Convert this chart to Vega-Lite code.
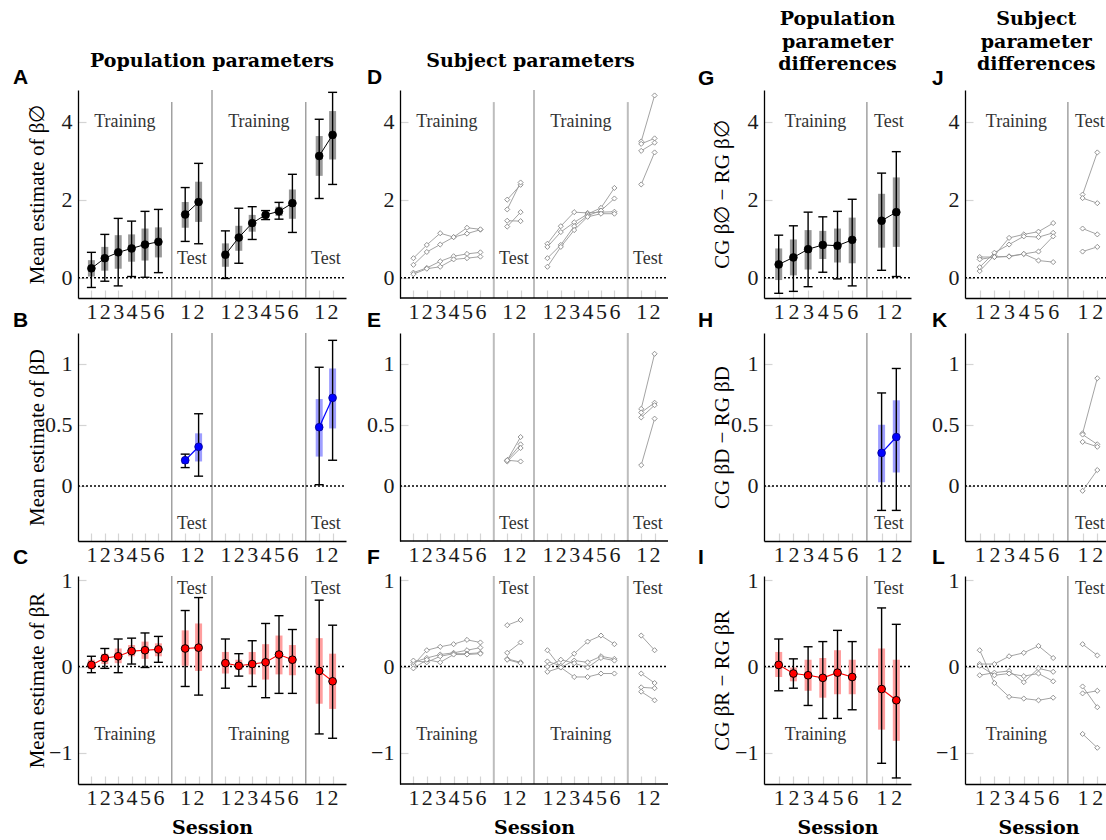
{
"$schema": "https://vega.github.io/schema/vega-lite/v6.json",
"background": "white",
"autosize": {"type": "none"},
"padding": {"left": 78, "top": 35, "right": 1028, "bottom": 805},
"columns": 4,
"spacing": {"row": 35, "column": 54},
"bounds": "flush",
"align": "each",
"datasets": {
"pop": [
{"p":"A","x":1,"m":0.24,"l50":0.03,"h50":0.45,"l95":-0.25,"h95":0.65,"b":1},
{"p":"A","x":2,"m":0.50,"l50":0.18,"h50":0.79,"l95":-0.09,"h95":1.11,"b":1},
{"p":"A","x":3,"m":0.65,"l50":0.23,"h50":1.09,"l95":-0.21,"h95":1.52,"b":1},
{"p":"A","x":4,"m":0.75,"l50":0.41,"h50":1.11,"l95":0.03,"h95":1.45,"b":1},
{"p":"A","x":5,"m":0.85,"l50":0.44,"h50":1.26,"l95":0.01,"h95":1.70,"b":1},
{"p":"A","x":6,"m":0.92,"l50":0.52,"h50":1.29,"l95":0.13,"h95":1.75,"b":1},
{"p":"A","x":8,"m":1.62,"l50":1.28,"h50":1.94,"l95":0.93,"h95":2.31,"b":2},
{"p":"A","x":9,"m":1.94,"l50":1.43,"h50":2.46,"l95":0.87,"h95":2.93,"b":2},
{"p":"A","x":11,"m":0.59,"l50":0.28,"h50":0.88,"l95":-0.02,"h95":1.20,"b":3},
{"p":"A","x":12,"m":1.03,"l50":0.69,"h50":1.33,"l95":0.37,"h95":1.78,"b":3},
{"p":"A","x":13,"m":1.40,"l50":1.18,"h50":1.61,"l95":0.98,"h95":1.82,"b":3},
{"p":"A","x":14,"m":1.61,"l50":1.54,"h50":1.66,"l95":1.49,"h95":1.72,"b":3},
{"p":"A","x":15,"m":1.70,"l50":1.58,"h50":1.82,"l95":1.50,"h95":1.93,"b":3},
{"p":"A","x":16,"m":1.91,"l50":1.51,"h50":2.26,"l95":1.16,"h95":2.65,"b":3},
{"p":"A","x":18,"m":3.12,"l50":2.61,"h50":3.63,"l95":2.03,"h95":4.06,"b":4},
{"p":"A","x":19,"m":3.66,"l50":3.03,"h50":4.27,"l95":2.39,"h95":4.75,"b":4},
{"p":"B","x":8,"m":0.21,"l50":0.18,"h50":0.23,"l95":0.15,"h95":0.26,"b":2},
{"p":"B","x":9,"m":0.32,"l50":0.20,"h50":0.43,"l95":0.08,"h95":0.59,"b":2},
{"p":"B","x":18,"m":0.48,"l50":0.24,"h50":0.71,"l95":0.01,"h95":0.97,"b":4},
{"p":"B","x":19,"m":0.72,"l50":0.47,"h50":0.96,"l95":0.21,"h95":1.19,"b":4},
{"p":"C","x":1,"m":0.02,"l50":-0.03,"h50":0.08,"l95":-0.07,"h95":0.12,"b":1},
{"p":"C","x":2,"m":0.10,"l50":0.03,"h50":0.15,"l95":-0.02,"h95":0.21,"b":1},
{"p":"C","x":3,"m":0.12,"l50":0.04,"h50":0.21,"l95":-0.07,"h95":0.32,"b":1},
{"p":"C","x":4,"m":0.18,"l50":0.12,"h50":0.25,"l95":0.03,"h95":0.33,"b":1},
{"p":"C","x":5,"m":0.19,"l50":0.09,"h50":0.29,"l95":-0.01,"h95":0.39,"b":1},
{"p":"C","x":6,"m":0.20,"l50":0.12,"h50":0.27,"l95":0.05,"h95":0.35,"b":1},
{"p":"C","x":8,"m":0.21,"l50":0.01,"h50":0.42,"l95":-0.23,"h95":0.65,"b":2},
{"p":"C","x":9,"m":0.22,"l50":-0.05,"h50":0.50,"l95":-0.33,"h95":0.80,"b":2},
{"p":"C","x":11,"m":0.04,"l50":-0.08,"h50":0.17,"l95":-0.25,"h95":0.32,"b":3},
{"p":"C","x":12,"m":0.01,"l50":-0.04,"h50":0.08,"l95":-0.11,"h95":0.15,"b":3},
{"p":"C","x":13,"m":0.03,"l50":-0.09,"h50":0.17,"l95":-0.23,"h95":0.30,"b":3},
{"p":"C","x":14,"m":0.05,"l50":-0.15,"h50":0.26,"l95":-0.36,"h95":0.50,"b":3},
{"p":"C","x":15,"m":0.14,"l50":-0.09,"h50":0.36,"l95":-0.31,"h95":0.59,"b":3},
{"p":"C","x":16,"m":0.08,"l50":-0.10,"h50":0.25,"l95":-0.31,"h95":0.43,"b":3},
{"p":"C","x":18,"m":-0.05,"l50":-0.43,"h50":0.33,"l95":-0.78,"h95":0.77,"b":4},
{"p":"C","x":19,"m":-0.17,"l50":-0.49,"h50":0.15,"l95":-0.83,"h95":0.48,"b":4},
{"p":"G","x":1,"m":0.34,"l50":-0.06,"h50":0.75,"l95":-0.40,"h95":1.09,"b":1},
{"p":"G","x":2,"m":0.52,"l50":0.06,"h50":0.98,"l95":-0.35,"h95":1.33,"b":1},
{"p":"G","x":3,"m":0.73,"l50":0.21,"h50":1.22,"l95":-0.23,"h95":1.68,"b":1},
{"p":"G","x":4,"m":0.84,"l50":0.48,"h50":1.20,"l95":0.14,"h95":1.56,"b":1},
{"p":"G","x":5,"m":0.82,"l50":0.39,"h50":1.26,"l95":-0.03,"h95":1.70,"b":1},
{"p":"G","x":6,"m":0.97,"l50":0.37,"h50":1.54,"l95":-0.21,"h95":2.01,"b":1},
{"p":"G","x":8,"m":1.46,"l50":0.77,"h50":2.15,"l95":0.19,"h95":2.68,"b":2},
{"p":"G","x":9,"m":1.68,"l50":0.79,"h50":2.57,"l95":0.03,"h95":3.23,"b":2},
{"p":"H","x":8,"m":0.27,"l50":0.03,"h50":0.50,"l95":-0.20,"h95":0.76,"b":2},
{"p":"H","x":9,"m":0.40,"l50":0.11,"h50":0.70,"l95":-0.20,"h95":0.96,"b":2},
{"p":"I","x":1,"m":0.02,"l50":-0.12,"h50":0.17,"l95":-0.28,"h95":0.32,"b":1},
{"p":"I","x":2,"m":-0.08,"l50":-0.17,"h50":-0.01,"l95":-0.25,"h95":0.09,"b":1},
{"p":"I","x":3,"m":-0.10,"l50":-0.28,"h50":0.08,"l95":-0.45,"h95":0.23,"b":1},
{"p":"I","x":4,"m":-0.13,"l50":-0.36,"h50":0.10,"l95":-0.60,"h95":0.29,"b":1},
{"p":"I","x":5,"m":-0.07,"l50":-0.32,"h50":0.19,"l95":-0.60,"h95":0.42,"b":1},
{"p":"I","x":6,"m":-0.12,"l50":-0.32,"h50":0.08,"l95":-0.50,"h95":0.29,"b":1},
{"p":"I","x":8,"m":-0.26,"l50":-0.73,"h50":0.21,"l95":-1.12,"h95":0.68,"b":2},
{"p":"I","x":9,"m":-0.39,"l50":-0.86,"h50":0.08,"l95":-1.29,"h95":0.49,"b":2}
],
"subj": [
{"p":"D","x":1,"b":1,"s1":0.50,"s2":0.33,"s3":0.13,"s4":0.09},
{"p":"D","x":2,"b":1,"s1":0.84,"s2":0.66,"s3":0.25,"s4":0.23},
{"p":"D","x":3,"b":1,"s1":1.14,"s2":0.85,"s3":0.42,"s4":0.28},
{"p":"D","x":4,"b":1,"s1":1.04,"s2":1.04,"s3":0.55,"s4":0.47},
{"p":"D","x":5,"b":1,"s1":1.13,"s2":1.28,"s3":0.61,"s4":0.50},
{"p":"D","x":6,"b":1,"s1":1.23,"s2":1.24,"s3":0.65,"s4":0.54},
{"p":"D","x":8,"b":2,"s1":2.00,"s2":1.75,"s3":1.46,"s4":1.31},
{"p":"D","x":9,"b":2,"s1":2.38,"s2":2.44,"s3":1.45,"s4":1.68},
{"p":"D","x":11,"b":3,"s1":0.87,"s2":0.79,"s3":0.50,"s4":0.28},
{"p":"D","x":12,"b":3,"s1":1.32,"s2":1.17,"s3":0.84,"s4":0.79},
{"p":"D","x":13,"b":3,"s1":1.68,"s2":1.42,"s3":1.32,"s4":1.22},
{"p":"D","x":14,"b":3,"s1":1.66,"s2":1.63,"s3":1.59,"s4":1.56},
{"p":"D","x":15,"b":3,"s1":1.68,"s2":1.79,"s3":1.72,"s4":1.64},
{"p":"D","x":16,"b":3,"s1":1.69,"s2":2.30,"s3":2.03,"s4":1.64},
{"p":"D","x":18,"b":4,"s1":3.49,"s2":3.43,"s3":3.25,"s4":2.39},
{"p":"D","x":19,"b":4,"s1":4.67,"s2":3.57,"s3":3.46,"s4":3.21},
{"p":"E","x":8,"b":2,"s1":0.21,"s2":0.21,"s3":0.20,"s4":0.21},
{"p":"E","x":9,"b":2,"s1":0.40,"s2":0.34,"s3":0.31,"s4":0.20},
{"p":"E","x":18,"b":4,"s1":0.63,"s2":0.60,"s3":0.56,"s4":0.17},
{"p":"E","x":19,"b":4,"s1":1.08,"s2":0.68,"s3":0.66,"s4":0.55},
{"p":"F","x":1,"b":1,"s1":0.02,"s2":0.05,"s3":0.07,"s4":-0.02},
{"p":"F","x":2,"b":1,"s1":0.19,"s2":0.10,"s3":0.05,"s4":0.08},
{"p":"F","x":3,"b":1,"s1":0.23,"s2":0.14,"s3":0.12,"s4":0.05},
{"p":"F","x":4,"b":1,"s1":0.26,"s2":0.16,"s3":0.15,"s4":0.14},
{"p":"F","x":5,"b":1,"s1":0.31,"s2":0.19,"s3":0.15,"s4":0.14},
{"p":"F","x":6,"b":1,"s1":0.28,"s2":0.22,"s3":0.16,"s4":0.15},
{"p":"F","x":8,"b":2,"s1":0.48,"s2":0.16,"s3":0.09,"s4":0.08},
{"p":"F","x":9,"b":2,"s1":0.54,"s2":0.28,"s3":0.05,"s4":0.04},
{"p":"F","x":11,"b":3,"s1":0.06,"s2":0.19,"s3":0.00,"s4":-0.06},
{"p":"F","x":12,"b":3,"s1":0.01,"s2":-0.01,"s3":0.08,"s4":-0.01},
{"p":"F","x":13,"b":3,"s1":0.15,"s2":0.07,"s3":0.04,"s4":-0.12},
{"p":"F","x":14,"b":3,"s1":0.29,"s2":0.05,"s3":-0.01,"s4":-0.12},
{"p":"F","x":15,"b":3,"s1":0.36,"s2":0.12,"s3":0.10,"s4":-0.08},
{"p":"F","x":16,"b":3,"s1":0.26,"s2":0.09,"s3":0.07,"s4":-0.08},
{"p":"F","x":18,"b":4,"s1":0.36,"s2":-0.08,"s3":-0.24,"s4":-0.29},
{"p":"F","x":19,"b":4,"s1":0.19,"s2":-0.19,"s3":-0.25,"s4":-0.39},
{"p":"J","x":1,"b":1,"s1":0.17,"s2":0.27,"s3":0.53,"s4":0.47},
{"p":"J","x":2,"b":1,"s1":0.57,"s2":0.64,"s3":0.53,"s4":0.53},
{"p":"J","x":3,"b":1,"s1":1.02,"s2":0.85,"s3":0.55,"s4":0.54},
{"p":"J","x":4,"b":1,"s1":1.11,"s2":1.06,"s3":0.61,"s4":0.61},
{"p":"J","x":5,"b":1,"s1":1.18,"s2":1.04,"s3":0.67,"s4":0.44},
{"p":"J","x":6,"b":1,"s1":1.40,"s2":1.15,"s3":1.06,"s4":0.40},
{"p":"J","x":8,"b":2,"s1":2.13,"s2":2.04,"s3":1.26,"s4":0.67},
{"p":"J","x":9,"b":2,"s1":3.21,"s2":1.91,"s3":1.11,"s4":0.79},
{"p":"K","x":8,"b":2,"s1":0.43,"s2":0.42,"s3":0.36,"s4":-0.04},
{"p":"K","x":9,"b":2,"s1":0.88,"s2":0.34,"s3":0.32,"s4":0.13},
{"p":"L","x":1,"b":1,"s1":0.19,"s2":0.03,"s3":-0.10,"s4":0.01},
{"p":"L","x":2,"b":1,"s1":-0.19,"s2":0.03,"s3":-0.07,"s4":-0.10},
{"p":"L","x":3,"b":1,"s1":-0.35,"s2":0.12,"s3":-0.05,"s4":-0.08},
{"p":"L","x":4,"b":1,"s1":-0.37,"s2":0.16,"s3":-0.18,"s4":-0.11},
{"p":"L","x":5,"b":1,"s1":-0.39,"s2":0.24,"s3":-0.02,"s4":-0.08},
{"p":"L","x":6,"b":1,"s1":-0.36,"s2":0.10,"s3":-0.06,"s4":-0.17},
{"p":"L","x":8,"b":2,"s1":0.26,"s2":-0.23,"s3":-0.31,"s4":-0.78},
{"p":"L","x":9,"b":2,"s1":0.13,"s2":-0.47,"s3":-0.28,"s4":-0.94}
],
"div": [
{"p":"A","x":7,"lo":-0.52,"top":4.5},{"p":"A","x":10,"lo":-0.52,"top":4.81},{"p":"A","x":17,"lo":-0.52,"top":4.5},
{"p":"D","x":7,"lo":-0.52,"top":4.5},{"p":"D","x":10,"lo":-0.52,"top":4.81},{"p":"D","x":17,"lo":-0.52,"top":4.5},
{"p":"G","x":7,"lo":-0.52,"top":4.5},{"p":"J","x":7,"lo":-0.52,"top":4.5},
{"p":"B","x":7,"lo":-0.45,"top":1.25},{"p":"B","x":10,"lo":-0.45,"top":1.25},{"p":"B","x":17,"lo":-0.45,"top":1.25},
{"p":"E","x":7,"lo":-0.45,"top":1.25},{"p":"E","x":10,"lo":-0.45,"top":1.25},{"p":"E","x":17,"lo":-0.45,"top":1.25},
{"p":"H","x":7,"lo":-0.45,"top":1.25},{"p":"H","x":10,"lo":-0.45,"top":1.25},{"p":"K","x":7,"lo":-0.45,"top":1.25},
{"p":"C","x":7,"lo":-1.36,"top":1.05},{"p":"C","x":10,"lo":-1.36,"top":1.05},{"p":"C","x":17,"lo":-1.36,"top":1.05},
{"p":"F","x":7,"lo":-1.36,"top":1.05},{"p":"F","x":10,"lo":-1.36,"top":1.05},{"p":"F","x":17,"lo":-1.36,"top":1.05},
{"p":"I","x":7,"lo":-1.36,"top":1.05},{"p":"L","x":7,"lo":-1.36,"top":1.05}
],
"zl": [
{"p":"A","x":0,"x1":20,"ymin":-0.52},{"p":"D","x":0,"x1":20,"ymin":-0.52},{"p":"G","x":0,"x1":10,"ymin":-0.52},{"p":"J","x":0,"x1":9.592,"ymin":-0.52},
{"p":"B","x":0,"x1":20,"ymin":-0.45},{"p":"E","x":0,"x1":20,"ymin":-0.45},{"p":"H","x":0,"x1":10,"ymin":-0.45},{"p":"K","x":0,"x1":9.592,"ymin":-0.45},
{"p":"C","x":0,"x1":20,"ymin":-1.36},{"p":"F","x":0,"x1":20,"ymin":-1.36},{"p":"I","x":0,"x1":10,"ymin":-1.36},{"p":"L","x":0,"x1":9.592,"ymin":-1.36}
],
"lbl": [
{"p":"A","x":3.5,"y":4.0,"t":"Training"},{"p":"A","x":8.5,"y":0.47,"t":"Test"},{"p":"A","x":13.5,"y":4.0,"t":"Training"},{"p":"A","x":18.5,"y":0.47,"t":"Test"},
{"p":"D","x":3.5,"y":4.0,"t":"Training"},{"p":"D","x":8.5,"y":0.47,"t":"Test"},{"p":"D","x":13.5,"y":4.0,"t":"Training"},{"p":"D","x":18.5,"y":0.47,"t":"Test"},
{"p":"G","x":3.5,"y":4.0,"t":"Training"},{"p":"G","x":8.5,"y":4.0,"t":"Test"},
{"p":"J","x":3.5,"y":4.0,"t":"Training"},{"p":"J","x":8.5,"y":4.0,"t":"Test"},
{"p":"B","x":8.5,"y":-0.31,"t":"Test"},{"p":"B","x":18.5,"y":-0.31,"t":"Test"},
{"p":"E","x":8.5,"y":-0.31,"t":"Test"},{"p":"E","x":18.5,"y":-0.31,"t":"Test"},
{"p":"H","x":8.5,"y":-0.31,"t":"Test"},{"p":"K","x":8.5,"y":-0.31,"t":"Test"},
{"p":"C","x":8.5,"y":0.9,"t":"Test"},{"p":"C","x":18.5,"y":0.9,"t":"Test"},{"p":"C","x":3.5,"y":-0.79,"t":"Training"},{"p":"C","x":13.5,"y":-0.79,"t":"Training"},
{"p":"F","x":8.5,"y":0.9,"t":"Test"},{"p":"F","x":18.5,"y":0.9,"t":"Test"},{"p":"F","x":3.5,"y":-0.79,"t":"Training"},{"p":"F","x":13.5,"y":-0.79,"t":"Training"},
{"p":"I","x":8.5,"y":0.9,"t":"Test"},{"p":"I","x":3.5,"y":-0.79,"t":"Training"},
{"p":"L","x":8.5,"y":0.9,"t":"Test"},{"p":"L","x":3.5,"y":-0.79,"t":"Training"}
],
"hdr": [
{"p":"A","hx":10,"hy":-0.58,"t":"Population parameters"},
{"p":"D","hx":9.74,"hy":-0.58,"t":"Subject parameters"},
{"p":"G","hx":5,"hy":1.5,"t":"Population\nparameter\ndifferences"},
{"p":"J","hx":4.85,"hy":1.5,"t":"Subject\nparameter\ndifferences"}
]
},
"concat": [
{"width": 268, "height": 20, "data": {"name": "hdr"}, "transform": [{"filter": "datum.p === 'A'"}],
 "mark": {"type": "text", "font": "DejaVu Serif", "fontWeight": "bold", "fontSize": 19, "baseline": "alphabetic", "lineBreak": "\n", "lineHeight": 22.5, "color": "#000"},
 "encoding": {"x": {"field": "hx", "type": "quantitative", "scale": {"domain": [0, 20], "nice": false, "zero": false}, "axis": null}, "y": {"field": "hy", "type": "quantitative", "scale": {"domain": [0, 1], "nice": false, "zero": false}, "axis": null}, "text": {"field": "t"}}},
{"width": 310, "height": 20, "data": {"name": "hdr"}, "transform": [{"filter": "datum.p === 'D'"}],
 "mark": {"type": "text", "font": "DejaVu Serif", "fontWeight": "bold", "fontSize": 19, "baseline": "alphabetic", "lineBreak": "\n", "lineHeight": 22.5, "color": "#000"},
 "encoding": {"x": {"field": "hx", "type": "quantitative", "scale": {"domain": [0, 23.134], "nice": false, "zero": false}, "axis": null}, "y": {"field": "hy", "type": "quantitative", "scale": {"domain": [0, 1], "nice": false, "zero": false}, "axis": null}, "text": {"field": "t"}}},
{"width": 147, "height": 20, "data": {"name": "hdr"}, "transform": [{"filter": "datum.p === 'G'"}],
 "mark": {"type": "text", "font": "DejaVu Serif", "fontWeight": "bold", "fontSize": 19, "baseline": "alphabetic", "lineBreak": "\n", "lineHeight": 22.5, "color": "#000"},
 "encoding": {"x": {"field": "hx", "type": "quantitative", "scale": {"domain": [0, 10], "nice": false, "zero": false}, "axis": null}, "y": {"field": "hy", "type": "quantitative", "scale": {"domain": [0, 1], "nice": false, "zero": false}, "axis": null}, "text": {"field": "t"}}},
{"width": 141, "height": 20, "data": {"name": "hdr"}, "transform": [{"filter": "datum.p === 'J'"}],
 "mark": {"type": "text", "font": "DejaVu Serif", "fontWeight": "bold", "fontSize": 19, "baseline": "alphabetic", "lineBreak": "\n", "lineHeight": 22.5, "color": "#000"},
 "encoding": {"x": {"field": "hx", "type": "quantitative", "scale": {"domain": [0, 9.592], "nice": false, "zero": false}, "axis": null}, "y": {"field": "hy", "type": "quantitative", "scale": {"domain": [0, 1], "nice": false, "zero": false}, "axis": null}, "text": {"field": "t"}}},
{
"width": 268, "height": 208, "title": {"text": "A", "dx": -65},
"encoding": {"x": {"field": "x", "type": "quantitative", "scale": {"domain": [0, 20], "nice": false, "zero": false}, "axis": {"values": [1,2,3,4,5,6,8,9,11,12,13,14,15,16,18,19], "labelExpr": "datum.value <= 6 ? datum.value : datum.value <= 9 ? datum.value - 7 : datum.value <= 16 ? datum.value - 10 : datum.value - 17", "title": null, "labelOverlap": false, "labelSeparation": -40, "labelFlush": false}}},
"layer": [
{"data": {"name": "div"}, "transform": [{"filter": "datum.p === 'A'"}], "mark": {"type": "rule", "color": "#8a8a8a", "strokeWidth": 1.2},
 "encoding": {
  "y": {"field": "lo", "type": "quantitative", "scale": {"domain": [-0.52, 4.81], "nice": false, "zero": false}, "axis": {"values": [0, 2, 4], "format": "~g", "labelOverlap": false, "title": "Mean estimate of β∅", "titleX": -35, "titleBaseline": "alphabetic"}},
  "y2": {"field": "top"}}},
{"data": {"name": "zl"}, "transform": [{"filter": "datum.p === 'A'"}], "mark": {"type": "rule", "color": "#000", "strokeWidth": 1.5, "strokeDash": [2, 2]},
 "encoding": {"x2": {"field": "x1"}, "y": {"datum": 0, "type": "quantitative"}}},
{"data": {"name": "lbl"}, "transform": [{"filter": "datum.p === 'A'"}], "mark": {"type": "text", "font": "Liberation Serif", "fontSize": 18, "color": "#333"},
 "encoding": {"y": {"field": "y", "type": "quantitative"}, "text": {"field": "t"}}},
{"data": {"name": "pop"}, "transform": [{"filter": "datum.p === 'A'"}],
 "layer": [
  {"mark": {"type": "rule", "strokeWidth": 7, "color": "#999999"}, "encoding": {"y": {"field": "l50", "type": "quantitative"}, "y2": {"field": "h50"}}},
  {"mark": {"type": "rule", "strokeWidth": 1.4, "color": "#000"}, "encoding": {"y": {"field": "l95", "type": "quantitative"}, "y2": {"field": "h95"}}},
  {"mark": {"type": "rule", "strokeWidth": 1.4, "color": "#000", "xOffset": -4.5, "x2Offset": 4.5}, "encoding": {"x2": {"field": "x"}, "y": {"field": "l95", "type": "quantitative"}}},
  {"mark": {"type": "rule", "strokeWidth": 1.4, "color": "#000", "xOffset": -4.5, "x2Offset": 4.5}, "encoding": {"x2": {"field": "x"}, "y": {"field": "h95", "type": "quantitative"}}},
  {"mark": {"type": "line", "color": "#000", "strokeWidth": 1}, "encoding": {"y": {"field": "m", "type": "quantitative"}, "detail": {"field": "b", "type": "nominal"}}},
  {"mark": {"type": "point", "filled": true, "fill": "#000", "stroke": "#000", "strokeWidth": 0.8, "size": 60, "opacity": 1}, "encoding": {"y": {"field": "m", "type": "quantitative"}}}
 ]}
]},
{
"width": 310, "height": 208, "title": {"text": "D", "dx": -33},
"encoding": {"x": {"field": "x", "type": "quantitative", "scale": {"domain": [0, 23.134], "nice": false, "zero": false}, "axis": {"values": [1,2,3,4,5,6,8,9,11,12,13,14,15,16,18,19], "labelExpr": "datum.value <= 6 ? datum.value : datum.value <= 9 ? datum.value - 7 : datum.value <= 16 ? datum.value - 10 : datum.value - 17", "title": null, "domain": false, "labelOverlap": false, "labelSeparation": -40, "labelFlush": false}}},
"layer": [
{"data": {"name": "div"}, "transform": [{"filter": "datum.p === 'D'"}], "mark": {"type": "rule", "color": "#bdbdbd", "strokeWidth": 2},
 "encoding": {
  "y": {"field": "lo", "type": "quantitative", "scale": {"domain": [-0.52, 4.81], "nice": false, "zero": false}, "axis": {"values": [0, 2, 4], "format": "~g", "labelOverlap": false, "title": null}},
  "y2": {"field": "top"}}},
{"data": {"name": "zl"}, "transform": [{"filter": "datum.p === 'D'"}], "mark": {"type": "rule", "color": "#000", "strokeWidth": 1.5, "strokeDash": [2, 2]},
 "encoding": {"x2": {"field": "x1"}, "y": {"datum": 0, "type": "quantitative"}}},
{"data": {"name": "zl"}, "transform": [{"filter": "datum.p === 'D'"}], "mark": {"type": "rule", "color": "#000", "strokeWidth": 1.3},
 "encoding": {"x2": {"field": "x1"}, "y": {"field": "ymin", "type": "quantitative"}}},
{"data": {"name": "lbl"}, "transform": [{"filter": "datum.p === 'D'"}], "mark": {"type": "text", "font": "Liberation Serif", "fontSize": 18, "color": "#333"},
 "encoding": {"y": {"field": "y", "type": "quantitative"}, "text": {"field": "t"}}},
{"data": {"name": "subj"}, "transform": [{"filter": "datum.p === 'D'"}, {"fold": ["s1", "s2", "s3", "s4"], "as": ["s", "v"]}],
 "encoding": {"y": {"field": "v", "type": "quantitative"}},
 "layer": [
  {"mark": {"type": "line", "color": "#999", "strokeWidth": 0.9}, "encoding": {"detail": [{"field": "s", "type": "nominal"}, {"field": "b", "type": "nominal"}]}},
  {"mark": {"type": "point", "shape": "diamond", "filled": true, "fill": "#fff", "stroke": "#888", "strokeWidth": 0.9, "size": 26, "opacity": 1}, "encoding": {}}
 ]}
]},
{
"width": 147, "height": 208, "title": {"text": "G", "dx": -66},
"encoding": {"x": {"field": "x", "type": "quantitative", "scale": {"domain": [0, 10], "nice": false, "zero": false}, "axis": {"values": [1,2,3,4,5,6,8,9], "labelExpr": "datum.value <= 6 ? datum.value : datum.value - 7", "title": null, "labelOverlap": false, "labelSeparation": -40, "labelFlush": false}}},
"layer": [
{"data": {"name": "div"}, "transform": [{"filter": "datum.p === 'G'"}], "mark": {"type": "rule", "color": "#8a8a8a", "strokeWidth": 1.2},
 "encoding": {
  "y": {"field": "lo", "type": "quantitative", "scale": {"domain": [-0.52, 4.81], "nice": false, "zero": false}, "axis": {"values": [0, 2, 4], "format": "~g", "labelOverlap": false, "title": "CG β∅ − RG β∅", "titleX": -36, "titleBaseline": "alphabetic"}},
  "y2": {"field": "top"}}},
{"data": {"name": "zl"}, "transform": [{"filter": "datum.p === 'G'"}], "mark": {"type": "rule", "color": "#000", "strokeWidth": 1.5, "strokeDash": [2, 2]},
 "encoding": {"x2": {"field": "x1"}, "y": {"datum": 0, "type": "quantitative"}}},
{"data": {"name": "lbl"}, "transform": [{"filter": "datum.p === 'G'"}], "mark": {"type": "text", "font": "Liberation Serif", "fontSize": 18, "color": "#333"},
 "encoding": {"y": {"field": "y", "type": "quantitative"}, "text": {"field": "t"}}},
{"data": {"name": "pop"}, "transform": [{"filter": "datum.p === 'G'"}],
 "layer": [
  {"mark": {"type": "rule", "strokeWidth": 7, "color": "#999999"}, "encoding": {"y": {"field": "l50", "type": "quantitative"}, "y2": {"field": "h50"}}},
  {"mark": {"type": "rule", "strokeWidth": 1.4, "color": "#000"}, "encoding": {"y": {"field": "l95", "type": "quantitative"}, "y2": {"field": "h95"}}},
  {"mark": {"type": "rule", "strokeWidth": 1.4, "color": "#000", "xOffset": -4.5, "x2Offset": 4.5}, "encoding": {"x2": {"field": "x"}, "y": {"field": "l95", "type": "quantitative"}}},
  {"mark": {"type": "rule", "strokeWidth": 1.4, "color": "#000", "xOffset": -4.5, "x2Offset": 4.5}, "encoding": {"x2": {"field": "x"}, "y": {"field": "h95", "type": "quantitative"}}},
  {"mark": {"type": "line", "color": "#000", "strokeWidth": 1}, "encoding": {"y": {"field": "m", "type": "quantitative"}, "detail": {"field": "b", "type": "nominal"}}},
  {"mark": {"type": "point", "filled": true, "fill": "#000", "stroke": "#000", "strokeWidth": 0.8, "size": 60, "opacity": 1}, "encoding": {"y": {"field": "m", "type": "quantitative"}}}
 ]}
]},
{
"width": 141, "height": 208, "title": {"text": "J", "dx": -33},
"encoding": {"x": {"field": "x", "type": "quantitative", "scale": {"domain": [0, 9.592], "nice": false, "zero": false}, "axis": {"values": [1,2,3,4,5,6,8,9], "labelExpr": "datum.value <= 6 ? datum.value : datum.value - 7", "title": null, "labelOverlap": false, "labelSeparation": -40, "labelFlush": false}}},
"layer": [
{"data": {"name": "div"}, "transform": [{"filter": "datum.p === 'J'"}], "mark": {"type": "rule", "color": "#8a8a8a", "strokeWidth": 1.2},
 "encoding": {
  "y": {"field": "lo", "type": "quantitative", "scale": {"domain": [-0.52, 4.81], "nice": false, "zero": false}, "axis": {"values": [0, 2, 4], "format": "~g", "labelOverlap": false, "title": null}},
  "y2": {"field": "top"}}},
{"data": {"name": "zl"}, "transform": [{"filter": "datum.p === 'J'"}], "mark": {"type": "rule", "color": "#000", "strokeWidth": 1.5, "strokeDash": [2, 2]},
 "encoding": {"x2": {"field": "x1"}, "y": {"datum": 0, "type": "quantitative"}}},
{"data": {"name": "lbl"}, "transform": [{"filter": "datum.p === 'J'"}], "mark": {"type": "text", "font": "Liberation Serif", "fontSize": 18, "color": "#333", "clip": true},
 "encoding": {"y": {"field": "y", "type": "quantitative"}, "text": {"field": "t"}}},
{"data": {"name": "subj"}, "transform": [{"filter": "datum.p === 'J'"}, {"fold": ["s1", "s2", "s3", "s4"], "as": ["s", "v"]}],
 "encoding": {"y": {"field": "v", "type": "quantitative"}},
 "layer": [
  {"mark": {"type": "line", "color": "#999", "strokeWidth": 0.9}, "encoding": {"detail": [{"field": "s", "type": "nominal"}, {"field": "b", "type": "nominal"}]}},
  {"mark": {"type": "point", "shape": "diamond", "filled": true, "fill": "#fff", "stroke": "#888", "strokeWidth": 0.9, "size": 26, "opacity": 1}, "encoding": {}}
 ]}
]},
{
"width": 268, "height": 208, "title": {"text": "B", "dx": -65},
"encoding": {"x": {"field": "x", "type": "quantitative", "scale": {"domain": [0, 20], "nice": false, "zero": false}, "axis": {"values": [1,2,3,4,5,6,8,9,11,12,13,14,15,16,18,19], "labelExpr": "datum.value <= 6 ? datum.value : datum.value <= 9 ? datum.value - 7 : datum.value <= 16 ? datum.value - 10 : datum.value - 17", "title": null, "labelOverlap": false, "labelSeparation": -40, "labelFlush": false}}},
"layer": [
{"data": {"name": "div"}, "transform": [{"filter": "datum.p === 'B'"}], "mark": {"type": "rule", "color": "#8a8a8a", "strokeWidth": 1.2},
 "encoding": {
  "y": {"field": "lo", "type": "quantitative", "scale": {"domain": [-0.45, 1.25], "nice": false, "zero": false}, "axis": {"values": [0, 0.5, 1], "format": "~g", "labelOverlap": false, "title": "Mean estimate of βD", "titleX": -35, "titleBaseline": "alphabetic"}},
  "y2": {"field": "top"}}},
{"data": {"name": "zl"}, "transform": [{"filter": "datum.p === 'B'"}], "mark": {"type": "rule", "color": "#000", "strokeWidth": 1.5, "strokeDash": [2, 2]},
 "encoding": {"x2": {"field": "x1"}, "y": {"datum": 0, "type": "quantitative"}}},
{"data": {"name": "lbl"}, "transform": [{"filter": "datum.p === 'B'"}], "mark": {"type": "text", "font": "Liberation Serif", "fontSize": 18, "color": "#333"},
 "encoding": {"y": {"field": "y", "type": "quantitative"}, "text": {"field": "t"}}},
{"data": {"name": "pop"}, "transform": [{"filter": "datum.p === 'B'"}],
 "layer": [
  {"mark": {"type": "rule", "strokeWidth": 7, "color": "#9e9eff"}, "encoding": {"y": {"field": "l50", "type": "quantitative"}, "y2": {"field": "h50"}}},
  {"mark": {"type": "rule", "strokeWidth": 1.4, "color": "#000"}, "encoding": {"y": {"field": "l95", "type": "quantitative"}, "y2": {"field": "h95"}}},
  {"mark": {"type": "rule", "strokeWidth": 1.4, "color": "#000", "xOffset": -4.5, "x2Offset": 4.5}, "encoding": {"x2": {"field": "x"}, "y": {"field": "l95", "type": "quantitative"}}},
  {"mark": {"type": "rule", "strokeWidth": 1.4, "color": "#000", "xOffset": -4.5, "x2Offset": 4.5}, "encoding": {"x2": {"field": "x"}, "y": {"field": "h95", "type": "quantitative"}}},
  {"mark": {"type": "line", "color": "#0000ff", "strokeWidth": 1.2}, "encoding": {"y": {"field": "m", "type": "quantitative"}, "detail": {"field": "b", "type": "nominal"}}},
  {"mark": {"type": "point", "filled": true, "fill": "#0000ff", "stroke": "#00008b", "strokeWidth": 0.8, "size": 60, "opacity": 1}, "encoding": {"y": {"field": "m", "type": "quantitative"}}}
 ]}
]},
{
"width": 310, "height": 208, "title": {"text": "E", "dx": -33},
"encoding": {"x": {"field": "x", "type": "quantitative", "scale": {"domain": [0, 23.134], "nice": false, "zero": false}, "axis": {"values": [1,2,3,4,5,6,8,9,11,12,13,14,15,16,18,19], "labelExpr": "datum.value <= 6 ? datum.value : datum.value <= 9 ? datum.value - 7 : datum.value <= 16 ? datum.value - 10 : datum.value - 17", "title": null, "domain": false, "labelOverlap": false, "labelSeparation": -40, "labelFlush": false}}},
"layer": [
{"data": {"name": "div"}, "transform": [{"filter": "datum.p === 'E'"}], "mark": {"type": "rule", "color": "#bdbdbd", "strokeWidth": 2},
 "encoding": {
  "y": {"field": "lo", "type": "quantitative", "scale": {"domain": [-0.45, 1.25], "nice": false, "zero": false}, "axis": {"values": [0, 0.5, 1], "format": "~g", "labelOverlap": false, "title": null}},
  "y2": {"field": "top"}}},
{"data": {"name": "zl"}, "transform": [{"filter": "datum.p === 'E'"}], "mark": {"type": "rule", "color": "#000", "strokeWidth": 1.5, "strokeDash": [2, 2]},
 "encoding": {"x2": {"field": "x1"}, "y": {"datum": 0, "type": "quantitative"}}},
{"data": {"name": "zl"}, "transform": [{"filter": "datum.p === 'E'"}], "mark": {"type": "rule", "color": "#000", "strokeWidth": 1.3},
 "encoding": {"x2": {"field": "x1"}, "y": {"field": "ymin", "type": "quantitative"}}},
{"data": {"name": "lbl"}, "transform": [{"filter": "datum.p === 'E'"}], "mark": {"type": "text", "font": "Liberation Serif", "fontSize": 18, "color": "#333"},
 "encoding": {"y": {"field": "y", "type": "quantitative"}, "text": {"field": "t"}}},
{"data": {"name": "subj"}, "transform": [{"filter": "datum.p === 'E'"}, {"fold": ["s1", "s2", "s3", "s4"], "as": ["s", "v"]}],
 "encoding": {"y": {"field": "v", "type": "quantitative"}},
 "layer": [
  {"mark": {"type": "line", "color": "#999", "strokeWidth": 0.9}, "encoding": {"detail": [{"field": "s", "type": "nominal"}, {"field": "b", "type": "nominal"}]}},
  {"mark": {"type": "point", "shape": "diamond", "filled": true, "fill": "#fff", "stroke": "#888", "strokeWidth": 0.9, "size": 26, "opacity": 1}, "encoding": {}}
 ]}
]},
{
"width": 147, "height": 208, "title": {"text": "H", "dx": -66},
"encoding": {"x": {"field": "x", "type": "quantitative", "scale": {"domain": [0, 10], "nice": false, "zero": false}, "axis": {"values": [1,2,3,4,5,6,8,9], "labelExpr": "datum.value <= 6 ? datum.value : datum.value - 7", "title": null, "labelOverlap": false, "labelSeparation": -40, "labelFlush": false}}},
"layer": [
{"data": {"name": "div"}, "transform": [{"filter": "datum.p === 'H'"}], "mark": {"type": "rule", "color": "#8a8a8a", "strokeWidth": 1.2},
 "encoding": {
  "y": {"field": "lo", "type": "quantitative", "scale": {"domain": [-0.45, 1.25], "nice": false, "zero": false}, "axis": {"values": [0, 0.5, 1], "format": "~g", "labelOverlap": false, "title": "CG βD − RG βD", "titleX": -36, "titleBaseline": "alphabetic"}},
  "y2": {"field": "top"}}},
{"data": {"name": "zl"}, "transform": [{"filter": "datum.p === 'H'"}], "mark": {"type": "rule", "color": "#000", "strokeWidth": 1.5, "strokeDash": [2, 2]},
 "encoding": {"x2": {"field": "x1"}, "y": {"datum": 0, "type": "quantitative"}}},
{"data": {"name": "lbl"}, "transform": [{"filter": "datum.p === 'H'"}], "mark": {"type": "text", "font": "Liberation Serif", "fontSize": 18, "color": "#333"},
 "encoding": {"y": {"field": "y", "type": "quantitative"}, "text": {"field": "t"}}},
{"data": {"name": "pop"}, "transform": [{"filter": "datum.p === 'H'"}],
 "layer": [
  {"mark": {"type": "rule", "strokeWidth": 7, "color": "#9e9eff"}, "encoding": {"y": {"field": "l50", "type": "quantitative"}, "y2": {"field": "h50"}}},
  {"mark": {"type": "rule", "strokeWidth": 1.4, "color": "#000"}, "encoding": {"y": {"field": "l95", "type": "quantitative"}, "y2": {"field": "h95"}}},
  {"mark": {"type": "rule", "strokeWidth": 1.4, "color": "#000", "xOffset": -4.5, "x2Offset": 4.5}, "encoding": {"x2": {"field": "x"}, "y": {"field": "l95", "type": "quantitative"}}},
  {"mark": {"type": "rule", "strokeWidth": 1.4, "color": "#000", "xOffset": -4.5, "x2Offset": 4.5}, "encoding": {"x2": {"field": "x"}, "y": {"field": "h95", "type": "quantitative"}}},
  {"mark": {"type": "line", "color": "#0000ff", "strokeWidth": 1.2}, "encoding": {"y": {"field": "m", "type": "quantitative"}, "detail": {"field": "b", "type": "nominal"}}},
  {"mark": {"type": "point", "filled": true, "fill": "#0000ff", "stroke": "#00008b", "strokeWidth": 0.8, "size": 60, "opacity": 1}, "encoding": {"y": {"field": "m", "type": "quantitative"}}}
 ]}
]},
{
"width": 141, "height": 208, "title": {"text": "K", "dx": -33},
"encoding": {"x": {"field": "x", "type": "quantitative", "scale": {"domain": [0, 9.592], "nice": false, "zero": false}, "axis": {"values": [1,2,3,4,5,6,8,9], "labelExpr": "datum.value <= 6 ? datum.value : datum.value - 7", "title": null, "labelOverlap": false, "labelSeparation": -40, "labelFlush": false}}},
"layer": [
{"data": {"name": "div"}, "transform": [{"filter": "datum.p === 'K'"}], "mark": {"type": "rule", "color": "#8a8a8a", "strokeWidth": 1.2},
 "encoding": {
  "y": {"field": "lo", "type": "quantitative", "scale": {"domain": [-0.45, 1.25], "nice": false, "zero": false}, "axis": {"values": [0, 0.5, 1], "format": "~g", "labelOverlap": false, "title": null}},
  "y2": {"field": "top"}}},
{"data": {"name": "zl"}, "transform": [{"filter": "datum.p === 'K'"}], "mark": {"type": "rule", "color": "#000", "strokeWidth": 1.5, "strokeDash": [2, 2]},
 "encoding": {"x2": {"field": "x1"}, "y": {"datum": 0, "type": "quantitative"}}},
{"data": {"name": "lbl"}, "transform": [{"filter": "datum.p === 'K'"}], "mark": {"type": "text", "font": "Liberation Serif", "fontSize": 18, "color": "#333", "clip": true},
 "encoding": {"y": {"field": "y", "type": "quantitative"}, "text": {"field": "t"}}},
{"data": {"name": "subj"}, "transform": [{"filter": "datum.p === 'K'"}, {"fold": ["s1", "s2", "s3", "s4"], "as": ["s", "v"]}],
 "encoding": {"y": {"field": "v", "type": "quantitative"}},
 "layer": [
  {"mark": {"type": "line", "color": "#999", "strokeWidth": 0.9}, "encoding": {"detail": [{"field": "s", "type": "nominal"}, {"field": "b", "type": "nominal"}]}},
  {"mark": {"type": "point", "shape": "diamond", "filled": true, "fill": "#fff", "stroke": "#888", "strokeWidth": 0.9, "size": 26, "opacity": 1}, "encoding": {}}
 ]}
]},
{
"width": 268, "height": 208, "title": {"text": "C", "dx": -65},
"encoding": {"x": {"field": "x", "type": "quantitative", "scale": {"domain": [0, 20], "nice": false, "zero": false}, "axis": {"values": [1,2,3,4,5,6,8,9,11,12,13,14,15,16,18,19], "labelExpr": "datum.value <= 6 ? datum.value : datum.value <= 9 ? datum.value - 7 : datum.value <= 16 ? datum.value - 10 : datum.value - 17", "title": "Session", "titleY": 49, "titleBaseline": "alphabetic", "labelOverlap": false, "labelSeparation": -40, "labelFlush": false}}},
"layer": [
{"data": {"name": "div"}, "transform": [{"filter": "datum.p === 'C'"}], "mark": {"type": "rule", "color": "#8a8a8a", "strokeWidth": 1.2},
 "encoding": {
  "y": {"field": "lo", "type": "quantitative", "scale": {"domain": [-1.36, 1.05], "nice": false, "zero": false}, "axis": {"values": [-1, 0, 1], "format": "~g", "labelOverlap": false, "title": "Mean estimate of βR", "titleX": -35, "titleBaseline": "alphabetic"}},
  "y2": {"field": "top"}}},
{"data": {"name": "zl"}, "transform": [{"filter": "datum.p === 'C'"}], "mark": {"type": "rule", "color": "#000", "strokeWidth": 1.5, "strokeDash": [2, 2]},
 "encoding": {"x2": {"field": "x1"}, "y": {"datum": 0, "type": "quantitative"}}},
{"data": {"name": "lbl"}, "transform": [{"filter": "datum.p === 'C'"}], "mark": {"type": "text", "font": "Liberation Serif", "fontSize": 18, "color": "#333"},
 "encoding": {"y": {"field": "y", "type": "quantitative"}, "text": {"field": "t"}}},
{"data": {"name": "pop"}, "transform": [{"filter": "datum.p === 'C'"}],
 "layer": [
  {"mark": {"type": "rule", "strokeWidth": 7, "color": "#ff9e9e"}, "encoding": {"y": {"field": "l50", "type": "quantitative"}, "y2": {"field": "h50"}}},
  {"mark": {"type": "rule", "strokeWidth": 1.4, "color": "#000"}, "encoding": {"y": {"field": "l95", "type": "quantitative"}, "y2": {"field": "h95"}}},
  {"mark": {"type": "rule", "strokeWidth": 1.4, "color": "#000", "xOffset": -4.5, "x2Offset": 4.5}, "encoding": {"x2": {"field": "x"}, "y": {"field": "l95", "type": "quantitative"}}},
  {"mark": {"type": "rule", "strokeWidth": 1.4, "color": "#000", "xOffset": -4.5, "x2Offset": 4.5}, "encoding": {"x2": {"field": "x"}, "y": {"field": "h95", "type": "quantitative"}}},
  {"mark": {"type": "line", "color": "#ff0000", "strokeWidth": 1.1}, "encoding": {"y": {"field": "m", "type": "quantitative"}, "detail": {"field": "b", "type": "nominal"}}},
  {"mark": {"type": "point", "filled": true, "fill": "#ff0000", "stroke": "#000", "strokeWidth": 1, "size": 60, "opacity": 1}, "encoding": {"y": {"field": "m", "type": "quantitative"}}}
 ]}
]},
{
"width": 310, "height": 208, "title": {"text": "F", "dx": -33},
"encoding": {"x": {"field": "x", "type": "quantitative", "scale": {"domain": [0, 23.134], "nice": false, "zero": false}, "axis": {"values": [1,2,3,4,5,6,8,9,11,12,13,14,15,16,18,19], "labelExpr": "datum.value <= 6 ? datum.value : datum.value <= 9 ? datum.value - 7 : datum.value <= 16 ? datum.value - 10 : datum.value - 17", "title": "Session", "titleY": 49, "titleX": 134, "titleBaseline": "alphabetic", "domain": false, "labelOverlap": false, "labelSeparation": -40, "labelFlush": false}}},
"layer": [
{"data": {"name": "div"}, "transform": [{"filter": "datum.p === 'F'"}], "mark": {"type": "rule", "color": "#bdbdbd", "strokeWidth": 2},
 "encoding": {
  "y": {"field": "lo", "type": "quantitative", "scale": {"domain": [-1.36, 1.05], "nice": false, "zero": false}, "axis": {"values": [-1, 0, 1], "format": "~g", "labelOverlap": false, "title": null}},
  "y2": {"field": "top"}}},
{"data": {"name": "zl"}, "transform": [{"filter": "datum.p === 'F'"}], "mark": {"type": "rule", "color": "#000", "strokeWidth": 1.5, "strokeDash": [2, 2]},
 "encoding": {"x2": {"field": "x1"}, "y": {"datum": 0, "type": "quantitative"}}},
{"data": {"name": "zl"}, "transform": [{"filter": "datum.p === 'F'"}], "mark": {"type": "rule", "color": "#000", "strokeWidth": 1.3},
 "encoding": {"x2": {"field": "x1"}, "y": {"field": "ymin", "type": "quantitative"}}},
{"data": {"name": "lbl"}, "transform": [{"filter": "datum.p === 'F'"}], "mark": {"type": "text", "font": "Liberation Serif", "fontSize": 18, "color": "#333"},
 "encoding": {"y": {"field": "y", "type": "quantitative"}, "text": {"field": "t"}}},
{"data": {"name": "subj"}, "transform": [{"filter": "datum.p === 'F'"}, {"fold": ["s1", "s2", "s3", "s4"], "as": ["s", "v"]}],
 "encoding": {"y": {"field": "v", "type": "quantitative"}},
 "layer": [
  {"mark": {"type": "line", "color": "#999", "strokeWidth": 0.9}, "encoding": {"detail": [{"field": "s", "type": "nominal"}, {"field": "b", "type": "nominal"}]}},
  {"mark": {"type": "point", "shape": "diamond", "filled": true, "fill": "#fff", "stroke": "#888", "strokeWidth": 0.9, "size": 26, "opacity": 1}, "encoding": {}}
 ]}
]},
{
"width": 147, "height": 208, "title": {"text": "I", "dx": -66},
"encoding": {"x": {"field": "x", "type": "quantitative", "scale": {"domain": [0, 10], "nice": false, "zero": false}, "axis": {"values": [1,2,3,4,5,6,8,9], "labelExpr": "datum.value <= 6 ? datum.value : datum.value - 7", "title": "Session", "titleY": 49, "titleBaseline": "alphabetic", "labelOverlap": false, "labelSeparation": -40, "labelFlush": false}}},
"layer": [
{"data": {"name": "div"}, "transform": [{"filter": "datum.p === 'I'"}], "mark": {"type": "rule", "color": "#8a8a8a", "strokeWidth": 1.2},
 "encoding": {
  "y": {"field": "lo", "type": "quantitative", "scale": {"domain": [-1.36, 1.05], "nice": false, "zero": false}, "axis": {"values": [-1, 0, 1], "format": "~g", "labelOverlap": false, "title": "CG βR − RG βR", "titleX": -36, "titleBaseline": "alphabetic"}},
  "y2": {"field": "top"}}},
{"data": {"name": "zl"}, "transform": [{"filter": "datum.p === 'I'"}], "mark": {"type": "rule", "color": "#000", "strokeWidth": 1.5, "strokeDash": [2, 2]},
 "encoding": {"x2": {"field": "x1"}, "y": {"datum": 0, "type": "quantitative"}}},
{"data": {"name": "lbl"}, "transform": [{"filter": "datum.p === 'I'"}], "mark": {"type": "text", "font": "Liberation Serif", "fontSize": 18, "color": "#333"},
 "encoding": {"y": {"field": "y", "type": "quantitative"}, "text": {"field": "t"}}},
{"data": {"name": "pop"}, "transform": [{"filter": "datum.p === 'I'"}],
 "layer": [
  {"mark": {"type": "rule", "strokeWidth": 7, "color": "#ff9e9e"}, "encoding": {"y": {"field": "l50", "type": "quantitative"}, "y2": {"field": "h50"}}},
  {"mark": {"type": "rule", "strokeWidth": 1.4, "color": "#000"}, "encoding": {"y": {"field": "l95", "type": "quantitative"}, "y2": {"field": "h95"}}},
  {"mark": {"type": "rule", "strokeWidth": 1.4, "color": "#000", "xOffset": -4.5, "x2Offset": 4.5}, "encoding": {"x2": {"field": "x"}, "y": {"field": "l95", "type": "quantitative"}}},
  {"mark": {"type": "rule", "strokeWidth": 1.4, "color": "#000", "xOffset": -4.5, "x2Offset": 4.5}, "encoding": {"x2": {"field": "x"}, "y": {"field": "h95", "type": "quantitative"}}},
  {"mark": {"type": "line", "color": "#ff0000", "strokeWidth": 1.1}, "encoding": {"y": {"field": "m", "type": "quantitative"}, "detail": {"field": "b", "type": "nominal"}}},
  {"mark": {"type": "point", "filled": true, "fill": "#ff0000", "stroke": "#000", "strokeWidth": 1, "size": 60, "opacity": 1}, "encoding": {"y": {"field": "m", "type": "quantitative"}}}
 ]}
]},
{
"width": 141, "height": 208, "title": {"text": "L", "dx": -33},
"encoding": {"x": {"field": "x", "type": "quantitative", "scale": {"domain": [0, 9.592], "nice": false, "zero": false}, "axis": {"values": [1,2,3,4,5,6,8,9], "labelExpr": "datum.value <= 6 ? datum.value : datum.value - 7", "title": "Session", "titleY": 49, "titleX": 73.5, "titleBaseline": "alphabetic", "labelOverlap": false, "labelSeparation": -40, "labelFlush": false}}},
"layer": [
{"data": {"name": "div"}, "transform": [{"filter": "datum.p === 'L'"}], "mark": {"type": "rule", "color": "#8a8a8a", "strokeWidth": 1.2},
 "encoding": {
  "y": {"field": "lo", "type": "quantitative", "scale": {"domain": [-1.36, 1.05], "nice": false, "zero": false}, "axis": {"values": [-1, 0, 1], "format": "~g", "labelOverlap": false, "title": null}},
  "y2": {"field": "top"}}},
{"data": {"name": "zl"}, "transform": [{"filter": "datum.p === 'L'"}], "mark": {"type": "rule", "color": "#000", "strokeWidth": 1.5, "strokeDash": [2, 2]},
 "encoding": {"x2": {"field": "x1"}, "y": {"datum": 0, "type": "quantitative"}}},
{"data": {"name": "lbl"}, "transform": [{"filter": "datum.p === 'L'"}], "mark": {"type": "text", "font": "Liberation Serif", "fontSize": 18, "color": "#333", "clip": true},
 "encoding": {"y": {"field": "y", "type": "quantitative"}, "text": {"field": "t"}}},
{"data": {"name": "subj"}, "transform": [{"filter": "datum.p === 'L'"}, {"fold": ["s1", "s2", "s3", "s4"], "as": ["s", "v"]}],
 "encoding": {"y": {"field": "v", "type": "quantitative"}},
 "layer": [
  {"mark": {"type": "line", "color": "#999", "strokeWidth": 0.9}, "encoding": {"detail": [{"field": "s", "type": "nominal"}, {"field": "b", "type": "nominal"}]}},
  {"mark": {"type": "point", "shape": "diamond", "filled": true, "fill": "#fff", "stroke": "#888", "strokeWidth": 0.9, "size": 26, "opacity": 1}, "encoding": {}}
 ]}
]}
],
"config": {
 "view": {"stroke": null},
 "axis": {"grid": false, "domainColor": "#000", "domainWidth": 1.3, "tickColor": "#d4d4d4", "tickSize": -8, "tickWidth": 1.2, "labelFont": "Liberation Serif", "labelFontSize": 22, "labelColor": "#1a1a1a", "titleFont": "Liberation Serif", "titleFontWeight": "normal", "titleFontSize": 21, "titleColor": "#000", "labelOverlap": false},
 "axisX": {"labelPadding": 11, "labelAngle": 0, "labelFlush": false, "titleFont": "DejaVu Serif", "titleFontWeight": "bold", "titleFontSize": 19},
 "axisY": {"labelPadding": 14},
 "title": {"font": "Liberation Sans", "fontWeight": "bold", "fontSize": 21, "anchor": "start", "frame": "group", "offset": 1, "baseline": "alphabetic", "color": "#000"}
}
}
